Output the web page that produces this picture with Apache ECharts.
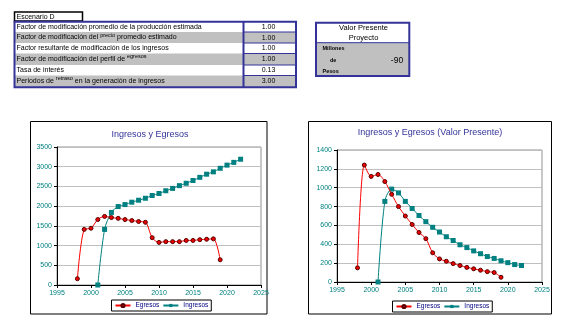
<!DOCTYPE html>
<html>
<head>
<meta charset="utf-8">
<script src="https://cdn.jsdelivr.net/npm/echarts@6/dist/echarts.min.js"></script>
<style>
html,body{margin:0;padding:0;background:#fff;}
#c{width:562px;height:322px;}
</style>
</head>
<body>
<div id="c"></div>
<script>
// ---- data ----
const scenarioTitle = 'Escenario D';
const paramLabels = [
  '{n|Factor de modificación promedio de la producción estimada}',
  '{n|Factor de modificación del }{s|precio}{n| promedio estimado}',
  '{n|Factor resultante de modificación de los ingresos}',
  '{n|Factor de modificación del perfil de }{s|egresos}',
  '{n|Tasa de interés}',
  '{n|Periodos de }{s|retraso}{n| en la generación de ingresos}'
];
const paramValues = ['1.00', '1.00', '1.00', '1.00', '0.13', '3.00'];
const vpTitle = ['Valor Presente', 'Proyecto'];
const vpUnits = ['Millones', 'de', 'Pesos'];
const vpValue = '-90';

const chartTitles = ['Ingresos y Egresos', 'Ingresos y Egresos (Valor Presente)'];
const seriesNames = ['Egresos', 'Ingresos'];

const yearsEgresos = [1998,1999,2000,2001,2002,2003,2004,2005,2006,2007,2008,2009,2010,2011,2012,2013,2014,2015,2016,2017,2018,2019];
const yearsIngresos = [2001,2002,2003,2004,2005,2006,2007,2008,2009,2010,2011,2012,2013,2014,2015,2016,2017,2018,2019,2020,2021,2022];

const egresos = [160,1410,1440,1660,1740,1710,1690,1660,1635,1610,1590,1200,1080,1100,1100,1100,1130,1130,1150,1160,1170,640];
const ingresos = [0,1410,1840,1990,2040,2100,2150,2200,2270,2320,2390,2450,2520,2580,2650,2730,2810,2870,2960,3040,3110,3190];

const egresosVP = [150,1240,1120,1140,1065,930,800,700,610,525,460,310,245,220,195,175,155,140,125,110,100,50];
const ingresosVP = [0,855,985,945,855,780,705,640,580,530,480,440,395,365,330,300,270,250,225,205,185,175];

const xMin = 1995, xMax = 2025, xStep = 5;
const yMax1 = 3500, yStep1 = 500;
const yMax2 = 1400, yStep2 = 200;

// ---- helpers ----
const FONT = 'Arial, "Liberation Sans", sans-serif';
const NAVY = '#333399';
const GRAY = '#c0c0c0';
const TEAL = '#008080';
const RED = '#ff0000';

function pairs(xs, ys) { return xs.map((x, i) => [x, ys[i]]); }
function rect(x, y, w, h, fill, stroke, lw, z) {
  return {type: 'rect', silent: true, z: z || 0, shape: {x: x, y: y, width: w, height: h},
          style: {fill: fill || null, stroke: stroke || null, lineWidth: lw || 0}};
}
function line(x1, y1, x2, y2, stroke, lw, z) {
  return {type: 'line', silent: true, z: z || 1, shape: {x1: x1, y1: y1, x2: x2, y2: y2},
          style: {stroke: stroke, lineWidth: lw}};
}
function txt(x, y, text, size, align, weight, color, rich) {
  const st = {text: text, fill: color || '#000', font: (weight || 'normal') + ' ' + size + 'px ' + FONT,
              align: align, textAlign: align, verticalAlign: 'middle', textVerticalAlign: 'middle'};
  if (rich) st.rich = rich;
  return {type: 'text', silent: true, z: 5, x: x, y: y, style: st};
}

const g = [];
// Escenario box
g.push(rect(14.5, 12, 68, 9, '#fff', '#000', 1.5, 2));
g.push(txt(16.5, 16.8, scenarioTitle, 7, 'left'));

// parameter table
const rowB = [22, 32, 43, 53.5, 65, 75.5, 87];
const richSt = {
  n: {fontSize: 7, fontFamily: FONT, color: '#000'},
  s: {fontSize: 5.5, fontFamily: FONT, color: '#000', padding: [0, 0, 5, 0]}
};
for (let i = 0; i < 6; i++) {
  const y0 = rowB[i], y1 = rowB[i + 1];
  const fill = (i % 2 === 1) ? GRAY : '#fff';
  g.push(rect(14, y0, 230, y1 - y0, fill, null, 0, 0));
  g.push(rect(244, y0, 52, y1 - y0, fill, null, 0, 0));
  g.push(txt(16.5, (y0 + y1) / 2, paramLabels[i], 7, 'left', 'normal', '#000', richSt));
  g.push(txt(268.5, (y0 + y1) / 2 + 0.3, paramValues[i], 7, 'center'));
  if (i > 0) g.push(line(244, y0, 296, y0, NAVY, 1, 1));
}
g.push(rect(14.5, 21.7, 281.5, 65.6, null, NAVY, 2, 3));
g.push(line(243.5, 21.7, 243.5, 87.3, NAVY, 2, 3));

// Valor presente box
g.push(rect(316, 22.7, 93.3, 20, '#fff', null, 0, 0));
g.push(rect(316, 42.7, 93.3, 33.3, GRAY, null, 0, 0));
g.push(line(316, 42.7, 409.3, 42.7, NAVY, 1, 1));
g.push(rect(316, 22.7, 93.3, 53.3, null, NAVY, 2, 3));
g.push(txt(363.5, 28, vpTitle[0], 7.5, 'center'));
g.push(txt(363.5, 38, vpTitle[1], 7.5, 'center'));
g.push(txt(322.5, 48.5, vpUnits[0], 5.5, 'left', 'bold'));
g.push(txt(330, 60.7, vpUnits[1], 5.5, 'left', 'bold'));
g.push(txt(322.5, 71, vpUnits[2], 5.5, 'left', 'bold'));
g.push(txt(397, 60.7, vpValue, 8.5, 'center'));

// chart frames
g.push(rect(30.5, 121.5, 236.5, 192.5, null, '#000', 1, 0));
g.push(rect(308.5, 121.5, 243, 192.5, null, '#000', 1, 0));

function xAxisCfg(gi) {
  return {
    type: 'value', gridIndex: gi, min: xMin, max: xMax, interval: xStep,
    axisLine: {show: true, onZero: false, lineStyle: {color: '#000', width: 1}},
    axisTick: {show: true, length: 3, lineStyle: {color: '#000'}},
    axisLabel: {color: TEAL, fontSize: 7, fontFamily: FONT, margin: 5, formatter: v => String(v)},
    splitLine: {show: false}
  };
}
function yAxisCfg(gi, max, step) {
  return {
    type: 'value', gridIndex: gi, min: 0, max: max, interval: step,
    axisLine: {show: true, lineStyle: {color: '#000', width: 1}},
    axisTick: {show: true, length: 3, lineStyle: {color: '#000'}},
    axisLabel: {color: TEAL, fontSize: 7, fontFamily: FONT, margin: 5, formatter: v => String(v)},
    splitLine: {show: true, lineStyle: {color: GRAY, width: 1}}
  };
}
function serEgr(gi, data) {
  return {
    name: seriesNames[0], type: 'line', xAxisIndex: gi, yAxisIndex: gi, data: data,
    smooth: 0.3, symbol: 'circle', symbolSize: 4, showAllSymbol: true,
    lineStyle: {color: RED, width: 1},
    itemStyle: {color: '#ee0000', borderColor: '#550000', borderWidth: 1},
    emphasis: {disabled: true}, animation: false, z: 3
  };
}
function serIng(gi, data) {
  return {
    name: seriesNames[1], type: 'line', xAxisIndex: gi, yAxisIndex: gi, data: data,
    smooth: 0.3, symbol: 'rect', symbolSize: 5, showAllSymbol: true,
    lineStyle: {color: TEAL, width: 1},
    itemStyle: {color: TEAL, borderColor: TEAL, borderWidth: 0},
    emphasis: {disabled: true}, animation: false, z: 2
  };
}
function legendCfg(left, top) {
  return {
    left: left, top: top, orient: 'horizontal',
    data: seriesNames,
    itemWidth: 15, itemHeight: 4, itemGap: 3,
    padding: [2, 3, 2, 3],
    borderColor: '#000', borderWidth: 1, backgroundColor: '#fff',
    textStyle: {fontSize: 6.5, fontFamily: FONT, color: '#000080'},
    selectedMode: false
  };
}

const chart = echarts.init(document.getElementById('c'), null, {renderer: 'canvas'});
chart.setOption({
  animation: false,
  backgroundColor: '#fff',
  title: [
    {text: chartTitles[0], left: 150, top: 130, textAlign: 'center', padding: 0,
     textStyle: {fontSize: 9, fontWeight: 'normal', fontFamily: FONT, color: NAVY}},
    {text: chartTitles[1], left: 430, top: 128, textAlign: 'center', padding: 0,
     textStyle: {fontSize: 9, fontWeight: 'normal', fontFamily: FONT, color: NAVY}}
  ],
  grid: [
    {left: 57, top: 147, width: 204, height: 138, show: true, borderColor: '#909090', borderWidth: 1, backgroundColor: 'transparent'},
    {left: 337, top: 150, width: 205, height: 132, show: true, borderColor: '#909090', borderWidth: 1, backgroundColor: 'transparent'}
  ],
  xAxis: [xAxisCfg(0), xAxisCfg(1)],
  yAxis: [yAxisCfg(0, yMax1, yStep1), yAxisCfg(1, yMax2, yStep2)],
  legend: [legendCfg(111.5, 300), legendCfg(392.5, 301)],
  series: [
    serEgr(0, pairs(yearsEgresos, egresos)),
    serIng(0, pairs(yearsIngresos, ingresos)),
    serEgr(1, pairs(yearsEgresos, egresosVP)),
    serIng(1, pairs(yearsIngresos, ingresosVP))
  ],
  graphic: {elements: g}
});
</script>
</body>
</html>
